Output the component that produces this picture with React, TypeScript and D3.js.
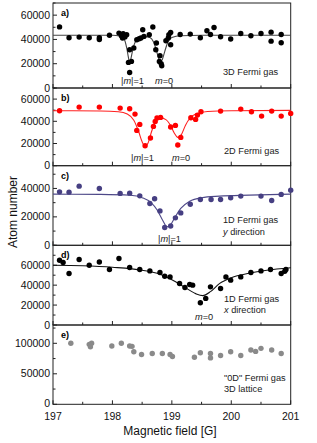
import * as d3 from "d3";

// field values [G] and atom numbers
const fieldA = [197.11, 197.27, 197.44, 197.61, 197.78, 197.78, 197.95, 198.11, 198.15, 198.17, 198.18, 198.21, 198.24, 198.27, 198.29, 198.29, 198.32, 198.36, 198.41, 198.45, 198.48, 198.51, 198.53, 198.62, 198.68, 198.73, 198.74, 198.79, 198.8, 198.82, 198.83, 198.9, 198.94, 198.95, 198.98, 198.98, 199.14, 199.31, 199.48, 199.59, 199.65, 199.71, 199.82, 199.99, 200.16, 200.33, 200.5, 200.67, 200.67, 200.84, 200.84];
const atomsA = [50300, 41400, 41900, 41400, 41400, 40000, 43500, 45200, 43000, 41200, 44700, 42000, 43900, 21100, 31500, 12800, 21900, 32900, 39700, 40600, 41200, 48000, 42500, 43900, 50200, 31500, 37000, 21900, 26600, 20000, 18300, 38900, 41200, 43900, 45800, 35600, 44000, 44400, 41400, 47100, 44100, 49800, 42200, 40300, 44900, 43000, 44900, 46000, 38600, 44100, 37300];
const fitFieldA = [197, 197.5, 198, 198.12, 198.2, 198.24, 198.27, 198.29, 198.31, 198.34, 198.38, 198.45, 198.55, 198.63, 198.69, 198.74, 198.78, 198.81, 198.84, 198.88, 198.93, 199, 199.15, 199.5, 201];
const fitAtomsA = [43500, 43500, 43400, 42800, 40000, 33000, 25000, 20500, 24000, 31000, 37500, 41000, 42300, 41500, 38000, 31000, 24000, 21000, 23500, 30000, 37500, 41500, 43000, 43400, 43500];

const fieldB = [197.11, 197.44, 197.78, 198.13, 198.29, 198.38, 198.41, 198.46, 198.55, 198.64, 198.69, 198.72, 198.75, 198.81, 198.98, 199.06, 199.1, 199.15, 199.32, 199.4, 199.43, 199.49, 199.82, 200.16, 200.34, 200.51, 200.68, 200.84, 201.0];
const atomsB = [49500, 52800, 52800, 51900, 51300, 46500, 31800, 37200, 18000, 24900, 35400, 39900, 43000, 43500, 34800, 36300, 18600, 25500, 43200, 41700, 45600, 48600, 49200, 51000, 48600, 44700, 49200, 44700, 47100];
const fitFieldB = [197, 197.8, 198.1, 198.25, 198.36, 198.44, 198.5, 198.55, 198.6, 198.66, 198.72, 198.8, 198.9, 198.98, 199.04, 199.1, 199.16, 199.23, 199.3, 199.4, 199.6, 200, 201];
const fitAtomsB = [49500, 49300, 48600, 46500, 41000, 31000, 21500, 17700, 20500, 31000, 39500, 43300, 41500, 36000, 29500, 25500, 28000, 36500, 42500, 46500, 48800, 49500, 49800];

const fieldC = [197.11, 197.27, 197.44, 197.78, 198.13, 198.29, 198.46, 198.63, 198.71, 198.8, 198.88, 198.98, 199.06, 199.15, 199.31, 199.48, 199.66, 199.82, 199.99, 200.16, 200.5, 200.68, 200.84, 201.0];
const atomsC = [37600, 37400, 41600, 40000, 36500, 36700, 34800, 29400, 32700, 24200, 12500, 13600, 19300, 22800, 28900, 32200, 32200, 32200, 33400, 34600, 34600, 31500, 35800, 38800];
const fitFieldC = [197, 197.8, 198.3, 198.5, 198.65, 198.75, 198.84, 198.92, 198.98, 199.05, 199.15, 199.3, 199.5, 199.8, 200.3, 201];
const fitAtomsC = [36000, 35800, 35200, 33500, 30000, 25000, 18000, 13000, 14500, 19500, 26000, 31000, 33500, 34600, 35300, 36000];

const fieldD = [197.11, 197.17, 197.27, 197.44, 197.61, 197.78, 197.95, 198.11, 198.29, 198.46, 198.63, 198.8, 198.88, 198.97, 199.13, 199.22, 199.3, 199.35, 199.48, 199.57, 199.65, 199.82, 199.91, 199.99, 200.16, 200.33, 200.5, 200.66, 200.84, 200.9, 200.92];
const atomsD = [65000, 62700, 51700, 65700, 60000, 63300, 55700, 66700, 57700, 55700, 54300, 52700, 49000, 48300, 41700, 37700, 40700, 40000, 22300, 26700, 38300, 36700, 48300, 45000, 48300, 52700, 54300, 55700, 51700, 54000, 55700];
const fitFieldD = [197, 197.5, 198, 198.5, 198.8, 199, 199.2, 199.4, 199.52, 199.65, 199.8, 200, 200.3, 200.6, 201];
const fitAtomsD = [60000, 59500, 58000, 55000, 51000, 45500, 38500, 31500, 29500, 33500, 41500, 47500, 52000, 55000, 57500];

const fieldE = [197.3, 197.61, 197.63, 197.65, 197.99, 198.15, 198.29, 198.33, 198.36, 198.49, 198.67, 198.84, 198.97, 199.01, 199.38, 199.48, 199.65, 199.65, 199.82, 199.99, 200.16, 200.33, 200.41, 200.5, 200.68, 200.84];
const atomsE = [100000, 98300, 94400, 100000, 95600, 100000, 95600, 95000, 86100, 81700, 83300, 83300, 81700, 78300, 77200, 84400, 83300, 76100, 80000, 86100, 80000, 88900, 86700, 91700, 88900, 83300];

const xTicks = [197, 198, 199, 200, 201];

const panels = [
  { tag: "a)", x: fieldA, y: atomsA, fx: fitFieldA, fy: fitAtomsA, color: "#000", line: "#444", top: 3, bottom: 88, max: 70000, major: [0, 20000, 40000, 60000], minor: 10000 },
  { tag: "b)", x: fieldB, y: atomsB, fx: fitFieldB, fy: fitAtomsB, color: "#ff0000", line: "#ff2020", top: 88, bottom: 165.7, max: 70000, major: [0, 20000, 40000, 60000], minor: 10000 },
  { tag: "c)", x: fieldC, y: atomsC, fx: fitFieldC, fy: fitAtomsC, color: "#463f82", line: "#4d4888", top: 165.7, bottom: 245.3, max: 56000, major: [0, 20000, 40000], minor: 10000 },
  { tag: "d)", x: fieldD, y: atomsD, fx: fitFieldD, fy: fitAtomsD, color: "#000", line: "#111", top: 245.3, bottom: 325, max: 80000, major: [0, 20000, 40000, 60000], minor: 10000 },
  { tag: "e)", x: fieldE, y: atomsE, fx: null, fy: null, color: "#8a8a8a", line: null, top: 325, bottom: 404.3, max: 130000, major: [0, 50000, 100000], minor: 25000 },
];

const notes = [
  [{ t: "3D Fermi gas", x: 223, y: 75 }, { t: "|m|=1", x: 121, y: 84, it: true }, { t: "m=0", x: 155, y: 84, it: true }],
  [{ t: "2D Fermi gas", x: 224, y: 154 }, { t: "|m|=1", x: 131, y: 161, it: true }, { t: "m=0", x: 172, y: 161, it: true }],
  [{ t: "1D Fermi gas", x: 223, y: 223 }, { t: "y direction", x: 223, y: 234.5, it: true }, { t: "|m|=1", x: 158, y: 242, it: true }],
  [{ t: "1D Fermi gas", x: 224, y: 301.5 }, { t: "x direction", x: 224, y: 312.5, it: true }, { t: "m=0", x: 195, y: 320, it: true }],
  [{ t: "\"0D\" Fermi gas", x: 224, y: 380.5 }, { t: "3D lattice", x: 224, y: 392 }],
];

const left = 53;
const right = 290.7;
const font = "Liberation Sans, Arial, sans-serif";

function Label({ t, x, y, it }: { t: string; x: number; y: number; it?: boolean }) {
  // italic only on the m / direction letter
  if (!it) return <text x={x} y={y} fontSize={9.2}>{t}</text>;
  const first = t.startsWith("|") ? 1 : 0;
  return (
    <text x={x} y={y} fontSize={9.2}>
      {t.slice(0, first)}
      <tspan fontStyle="italic">{t.charAt(first)}</tspan>
      {t.slice(first + 1)}
    </text>
  );
}

export default function App() {
  const x = d3.scaleLinear().domain([197, 201]).range([left, right]);
  const halfTicks = d3.range(197, 201.01, 0.5);

  return (
    <svg width={317} height={443} style={{ position: "absolute", left: 0, top: 0, background: "#fff" }} fontFamily={font}>
      {panels.map((p, i) => {
        const y = d3.scaleLinear().domain([0, p.max]).range([p.bottom, p.top]);
        const minorTicks = d3.range(0, p.max + 1, p.minor);
        const line = d3
          .line<number>()
          .x((d) => x(d))
          .y((_, j) => y((p.fy as number[])[j]))
          .curve(d3.curveMonotoneX);
        return (
          <g key={p.tag}>
            <rect x={left} y={p.top} width={right - left} height={p.bottom - p.top} fill="none" stroke="#222" strokeWidth={1} />
            {minorTicks.map((v) => (
              <line key={"m" + v} x1={left} x2={left + (p.major.includes(v) ? 4 : 2.5)} y1={y(v)} y2={y(v)} stroke="#222" />
            ))}
            {p.major.map((v) => (
              <text key={"l" + v} x={left - 3} y={y(v) + (v === 0 && i === 4 ? 2.8 : 3.6)} fontSize={10.5} textAnchor="end" fill="#111">
                {v}
              </text>
            ))}
            {halfTicks.map((v) => (
              <line key={"x" + v} x1={x(v)} x2={x(v)} y1={p.bottom} y2={p.bottom - (v % 1 === 0 ? 4 : 2.5)} stroke="#222" />
            ))}
            {p.fx && <path d={line(p.fx) || ""} fill="none" stroke={p.line as string} strokeWidth={1.1} />}
            {p.x.map((v, j) => (
              <circle key={j} cx={x(v)} cy={y(p.y[j])} r={2.7} fill={p.color} />
            ))}
            <text x={61} y={p.top + 13} fontSize={9} fontWeight="bold">
              {p.tag}
            </text>
            <g fill="#1a1a1a">
              {notes[i].map((n) => (
                <Label key={n.t} {...n} />
              ))}
            </g>
          </g>
        );
      })}
      {xTicks.map((v) => (
        <text key={v} x={x(v)} y={419.5} fontSize={10.5} textAnchor="middle" fill="#111">
          {v}
        </text>
      ))}
      <text x={170} y={434.5} fontSize={12} textAnchor="middle" fill="#111">
        Magnetic field [G]
      </text>
      <text transform="translate(17,212) rotate(-90)" fontSize={12} textAnchor="middle" fill="#111">
        Atom number
      </text>
    </svg>
  );
}
